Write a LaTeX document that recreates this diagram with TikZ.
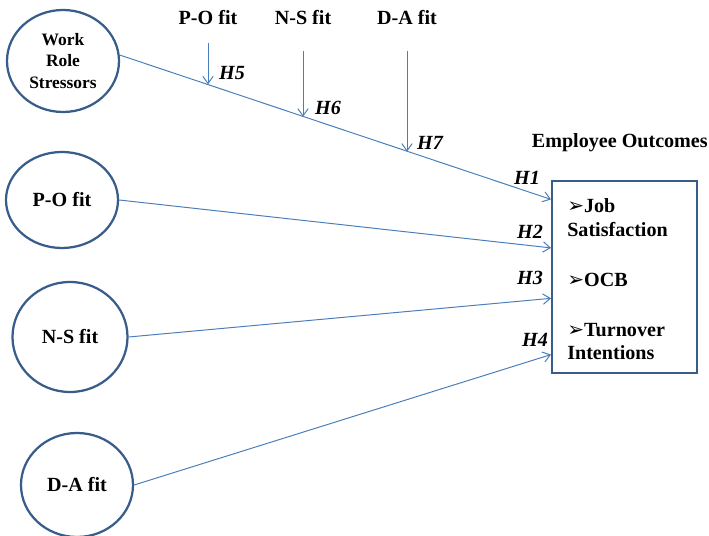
\documentclass[tikz,border=0pt]{standalone}
\usepackage{fontspec}
\setmainfont{Liberation Serif}
\newfontfamily\symfont{DejaVu Sans}
\usetikzlibrary{arrows.meta,positioning,shapes,calc}

\definecolor{linkblue}{HTML}{4A7EBB}
\definecolor{rimblue}{HTML}{385D8A}

\newcommand{\itemarrow}{{\symfont\char"27A2}}

\tikzset{
  construct/.style={ellipse,draw=rimblue,line width=1.6pt,inner sep=0pt,align=center,
    font=\bfseries\fontsize{14.3}{17}\selectfont},
  link/.style={draw=linkblue,line width=0.7pt,-{Straight Barb[length=1.8mm,width=2.6mm]}},
  toptext/.style={font=\bfseries\fontsize{14.3}{17}\selectfont},
  hyp/.style={font=\bfseries\itshape\fontsize{14.3}{17}\selectfont,inner sep=0pt},
  outitem/.style={anchor=west,align=left,inner sep=0pt,font=\bfseries\fontsize{14.3}{17}\selectfont}
}

\begin{document}
\begin{tikzpicture}
  \useasboundingbox (0.0,0.0) rectangle (17.725,13.4) ;

  % Draw the four constructs on the left
  \node[construct,minimum width=2.8cm,minimum height=2.55cm,
        font=\bfseries\fontsize{12.4}{15.3}\selectfont] (wrs) at (1.575,11.875) {Work\\Role\\Stressors} ;
  \node[construct,minimum width=2.8cm,minimum height=2.4cm] (po) at (1.55,8.4) {P-O fit} ;
  \node[construct,minimum width=2.875cm,minimum height=2.75cm] (ns) at (1.75,4.975) {N-S fit} ;
  \node[construct,minimum width=2.8cm,minimum height=2.6cm] (da) at (1.925,1.275) {D-A fit} ;

  % Draw the outcome box and its title
  \node[draw=rimblue,line width=1.4pt,minimum width=3.625cm,minimum height=4.8cm] (outcomes) at (15.6125,6.475) {} ;
  \node[toptext,anchor=east,inner sep=0pt] (outtitle) at (17.7,9.825) {Employee Outcomes} ;
  \node[outitem] (jobsat) at (14.175,7.9625) {\itemarrow Job\\Satisfaction} ;
  \node[outitem] (ocb) at (14.175,6.4) {\itemarrow OCB} ;
  \node[outitem] (turnover) at (14.175,4.8625) {\itemarrow Turnover\\Intentions} ;

  % Entry points on the left side of the box
  \coordinate (in1) at ($(outcomes.north west)!0.1!(outcomes.south west)$) ;
  \coordinate (in2) at ($(outcomes.north west)!0.35!(outcomes.south west)$) ;
  \coordinate (in3) at ($(outcomes.north west)!0.61!(outcomes.south west)$) ;
  \coordinate (in4) at ($(outcomes.north west)!0.9!(outcomes.south west)$) ;

  % Main path with points for the moderators
  \draw[link] (wrs.6) -- coordinate[pos=0.203] (m5) coordinate[pos=0.427] (m6)
              coordinate[pos=0.669] (m7) (in1) ;

  % Draw moderators on top
  \node[toptext] (pomod) at (5.2,12.95) {P-O fit} ;
  \node[toptext] (nsmod) at (7.575,12.95) {N-S fit} ;
  \node[toptext] (damod) at (10.175,12.95) {D-A fit} ;
  \draw[link,shorten <=0.32cm] (pomod) -- (pomod |- m5) ;
  \draw[link,shorten <=0.52cm] (nsmod) -- (nsmod |- m6) ;
  \draw[link,shorten <=0.52cm] (damod) -- (damod |- m7) ;

  % Direct paths
  \draw[link] (po.east) -- (in2) ;
  \draw[link] (ns.east) -- (in3) ;
  \draw[link] (da.east) -- (in4) ;

  % Hypothesis labels
  \node[hyp] (h5) at (5.8,11.575) {H5} ;
  \node[hyp] (h6) at (8.2,10.7) {H6} ;
  \node[hyp] (h7) at (10.75,9.825) {H7} ;
  \node[hyp] (h1) at (13.175,8.95) {H1} ;
  \node[hyp] (h2) at (13.25,7.6) {H2} ;
  \node[hyp] (h3) at (13.25,6.45) {H3} ;
  \node[hyp] (h4) at (13.375,4.9) {H4} ;
\end{tikzpicture}
\end{document}
